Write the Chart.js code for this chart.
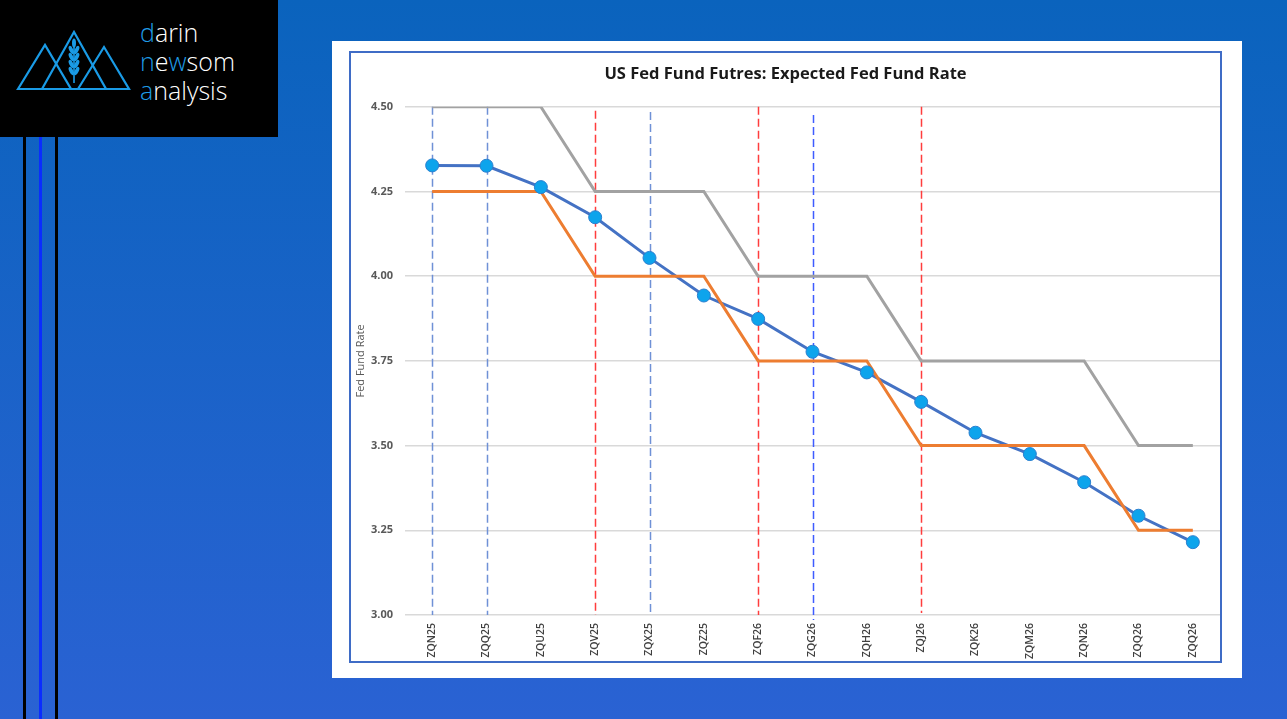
<!DOCTYPE html>
<html>
<head>
<meta charset="utf-8">
<script src="https://cdn.jsdelivr.net/npm/chart.js@4.4.1/dist/chart.umd.min.js"></script>
<style>
  html, body { margin: 0; padding: 0; }
  body {
    width: 1287px; height: 719px; overflow: hidden; position: relative;
    background: linear-gradient(180deg, #0a63bd 0%, #2a62d3 100%);
    font-family: "Open Sans", sans-serif;
  }
  .logo { position: absolute; left: 0; top: 0; width: 278px; height: 137px; background: #000; }
  .logo .txt { position: absolute; left: 140px; top: 18px; color: #fff; font-size: 25px; font-weight: 300; line-height: 29px; }
  .logo .b { color: #1f9be6; }
  .rule { position: absolute; top: 137px; bottom: 0; width: 3px; }
  .panel { position: absolute; left: 332px; top: 41px; width: 910px; height: 637px; background: #fff; }
  .frame { position: absolute; left: 349px; top: 51px; width: 873px; height: 612px; box-sizing: border-box; border: 2px solid #3f6cc6; }
  #chart { position: absolute; left: 0; top: 0; }
</style>
</head>
<body>
<div class="logo">
  <svg width="140" height="137" style="position:absolute;left:0;top:0">
    <g fill="none" stroke="#1a9be6" stroke-width="2.2" stroke-linejoin="miter">
      <polygon points="18,89 45,45 71,89"/>
      <polygon points="42,89 74,32 106,89"/>
      <polygon points="78,89 104,47 129,89"/>
    </g>
    <g fill="#1a9be6">
      <rect x="73.2" y="44" width="1.6" height="39"/>
      <ellipse cx="74" cy="43" rx="2" ry="4.5"/>
      <ellipse cx="71.3" cy="50" rx="2" ry="4.5" transform="rotate(-25 71.3 50)"/>
      <ellipse cx="76.7" cy="50" rx="2" ry="4.5" transform="rotate(25 76.7 50)"/>
      <ellipse cx="71.3" cy="57" rx="2" ry="4.5" transform="rotate(-25 71.3 57)"/>
      <ellipse cx="76.7" cy="57" rx="2" ry="4.5" transform="rotate(25 76.7 57)"/>
      <ellipse cx="71.3" cy="64" rx="2" ry="4.5" transform="rotate(-25 71.3 64)"/>
      <ellipse cx="76.7" cy="64" rx="2" ry="4.5" transform="rotate(25 76.7 64)"/>
      <ellipse cx="71.3" cy="71" rx="2" ry="4.5" transform="rotate(-25 71.3 71)"/>
      <ellipse cx="76.7" cy="71" rx="2" ry="4.5" transform="rotate(25 76.7 71)"/>
    </g>
  </svg>
  <div class="txt"><span class="b">d</span>arin<br><span class="b">n</span>e<span class="b">w</span>som<br><span class="b">a</span>nalysis</div>
</div>
<div class="rule" style="left:23px;background:#000"></div>
<div class="rule" style="left:39px;background:#0a2cff"></div>
<div class="rule" style="left:55px;background:#000"></div>
<div class="panel"></div>
<div class="frame"><canvas id="chart"></canvas></div>

<script>
// Fed fund futures contracts (last label repeats as in the source sheet)
const contracts = ["ZQN25", "ZQQ25", "ZQU25", "ZQV25", "ZQX25", "ZQZ25", "ZQF26", "ZQG26",
                   "ZQH26", "ZQJ26", "ZQK26", "ZQM26", "ZQN26", "ZQQ26", "ZQQ26"];

// Implied rate from futures (blue with markers)
const expectedRate = [4.327, 4.326, 4.263, 4.174, 4.054, 3.943, 3.874, 3.777,
                      3.716, 3.629, 3.538, 3.475, 3.392, 3.293, 3.215];

// Target range bounds
const upperBound = [4.50, 4.50, 4.50, 4.25, 4.25, 4.25, 4.00, 4.00, 4.00, 3.75, 3.75, 3.75, 3.75, 3.50, 3.50];
const lowerBound = [4.25, 4.25, 4.25, 4.00, 4.00, 4.00, 3.75, 3.75, 3.75, 3.50, 3.50, 3.50, 3.50, 3.25, 3.25];

// Dashed markers for meeting months
const markIndex  = [0, 1, 3, 4, 6, 7, 9];
const markKind   = ["soft", "soft", "cut", "soft", "cut", "strong", "cut"];
const markTop    = [4.50, 4.50, 4.488, 4.485, 4.50, 4.476, 4.50];
const markBottom = [3.00, 3.00, 3.00, 3.00, 3.00, 2.985, 3.006];

const yTicks = [3.00, 3.25, 3.50, 3.75, 4.00, 4.25, 4.50];

const markColors = { soft: "#6f91d6", cut: "#ff3d3d", strong: "#3f5cff" };

// Helper: draws the vertical dashed markers using the chart scales
const markerLines = {
  id: "markerLines",
  beforeDatasetsDraw(chart) {
    const { ctx, scales: { x, y } } = chart;
    ctx.save();
    ctx.lineWidth = 1.5;
    ctx.setLineDash([8, 4]);
    markIndex.forEach((idx, i) => {
      const px = Math.round(x.getPixelForValue(idx)) + 0.5;
      ctx.strokeStyle = markColors[markKind[i]];
      ctx.beginPath();
      ctx.moveTo(px, y.getPixelForValue(markTop[i]));
      ctx.lineTo(px, y.getPixelForValue(markBottom[i]));
      ctx.stroke();
    });
    ctx.restore();
  }
};

const canvas = document.getElementById("chart");
const W = 869, H = 608;
canvas.style.width = W + "px";
canvas.style.height = H + "px";

new Chart(canvas.getContext("2d"), {
  type: "line",
  data: {
    labels: contracts,
    datasets: [
      { label: "Upper", data: upperBound, borderColor: "#a2a2a2", borderWidth: 3, pointRadius: 0, tension: 0, order: 4 },
      { label: "Expected", data: expectedRate, borderColor: "#4472c4", borderWidth: 3, pointRadius: 0, tension: 0, order: 3 },
      { label: "Lower", data: lowerBound, borderColor: "#ed7d31", borderWidth: 3, pointRadius: 0, tension: 0, order: 2 },
      { label: "Expected points", data: expectedRate, showLine: false, pointRadius: 6.5,
        pointBackgroundColor: "#0da4ec", pointBorderColor: "#2a7fcf", pointBorderWidth: 1, order: 1 }
    ]
  },
  options: {
    responsive: false,
    animation: false,
    devicePixelRatio: 1,
    layout: { padding: 0, autoPadding: false },
    plugins: {
      legend: { display: false },
      tooltip: { enabled: false },
      title: {
        display: true,
        text: "US Fed Fund Futres: Expected Fed Fund Rate",
        color: "#1a1a1a",
        font: { family: "Open Sans", size: 16.5, weight: "bold" },
        padding: { top: 11, bottom: 23 }
      }
    },
    scales: {
      x: {
        offset: true,
        grid: { display: false, offset: true, drawTicks: false },
        border: { display: false },
        ticks: {
          autoSkip: false, maxRotation: 90, minRotation: 90, padding: 8,
          color: "#404040", font: { family: "Open Sans", size: 10.5, weight: "600" }
        },
        afterFit(scale) {
          scale.height = 46;
          scale.paddingLeft = 0;
          scale.paddingRight = 0;
        }
      },
      y: {
        min: 3.0,
        max: 4.5,
        afterBuildTicks(scale) { scale.ticks = yTicks.map(v => ({ value: v })); },
        ticks: {
          padding: 12, color: "#595959",
          font: { family: "Open Sans", size: 11, weight: "bold" },
          callback: v => Number(v).toFixed(2)
        },
        grid: { color: "#d9d9d9", lineWidth: 1.5, drawTicks: false },
        border: { display: false },
        title: {
          display: true, text: "Fed Fund Rate", color: "#595959",
          font: { family: "Open Sans", size: 11 }, padding: { top: 3, bottom: 0 }
        },
        afterFit(scale) { scale.width = 54; }
      }
    }
  },
  plugins: [markerLines]
});
</script>
</body>
</html>
